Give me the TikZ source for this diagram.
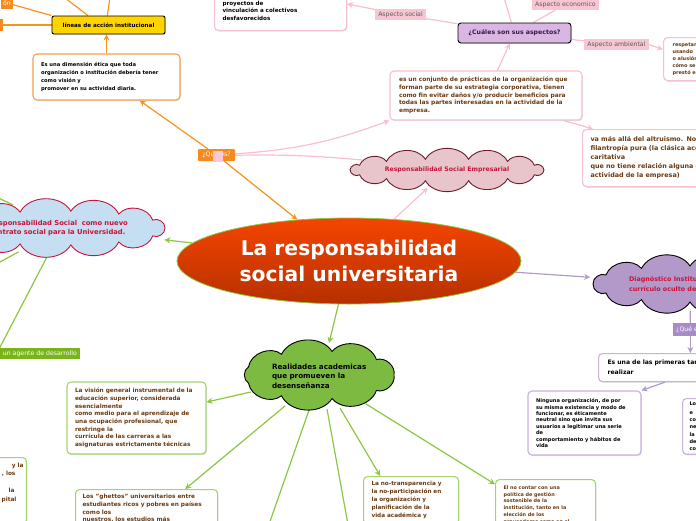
\documentclass[tikz,border=0pt]{standalone}
\usepackage{fontspec}
\setmainfont{DejaVu Sans}
\usetikzlibrary{shapes.geometric,arrows.meta,calc,shadows}
\pgfdeclarelayer{bg}
\pgfsetlayers{bg,main}
\newcommand\fz[2]{\fontsize{#1}{#2}\selectfont}
% #1 centre coordinate, #2 a, #3 b, #4 puffs, #5 style
\newcommand\cloudat[5]{%
  \path[#5] ($#1+(#2,0)$) \foreach \i in {1,...,#4}{ to[bend left=60] ($#1+({#2*cos(360*\i/#4)},{#3*sin(360*\i/#4)})$) } -- cycle;}
\definecolor{orL}{HTML}{F7941D}
\definecolor{orF}{HTML}{F58A20}
\definecolor{orB}{HTML}{F5A04A}
\definecolor{yel}{HTML}{FFD400}
\definecolor{pkL}{HTML}{F9BFCD}
\definecolor{pkF}{HTML}{F8C6D2}
\definecolor{pkB}{HTML}{F6C0CD}
\definecolor{pkSq}{HTML}{F8C8D6}
\definecolor{lav}{HTML}{DAB6E3}
\definecolor{dpur}{HTML}{3A1846}
\definecolor{grayT}{HTML}{5A5A5A}
\definecolor{brn}{HTML}{6A3B12}
\definecolor{rseF}{HTML}{E7C5CB}
\definecolor{mar}{HTML}{6E1B2E}
\definecolor{crim}{HTML}{C8143C}
\definecolor{diagF}{HTML}{B398CA}
\definecolor{puL}{HTML}{B49ACB}
\definecolor{puF}{HTML}{A88CC6}
\definecolor{puB}{HTML}{C8B2DA}
\definecolor{grL}{HTML}{8DC63F}
\definecolor{grF}{HTML}{7DBA42}
\definecolor{grB}{HTML}{A5D36E}
\definecolor{agF}{HTML}{78B41A}
\definecolor{ltBlue}{HTML}{C6DEF1}
\definecolor{ellTop}{HTML}{F54500}
\definecolor{ellBot}{HTML}{B53000}
\definecolor{ellB}{HTML}{8DC63F}
\begin{document}
\begin{tikzpicture}[x=1pt,y=-1pt,
  box/.style={draw, rounded corners=4pt, fill=white, line width=1.1pt, align=left,
     drop shadow={opacity=0.22,shadow xshift=0.8pt,shadow yshift=-1.2pt}},
  lab/.style={rectangle, inner xsep=3pt, inner ysep=0pt, minimum height=11pt, font=\fz{6.2}{7}},
  plab/.style={lab, fill=pkF, text=grayT},
  cldnode/.style={ellipse, inner sep=0pt},
  ar/.style={-{Stealth[length=6pt,width=6pt]}},
  ol/.style={draw=orL, line width=1.2pt},
  pl/.style={draw=pkL, line width=1.2pt},
  ul/.style={draw=puL, line width=1.2pt},
  gl/.style={draw=grL, line width=1.2pt}]
\useasboundingbox (0,0) rectangle (696,520);

% central
\node[ellipse, minimum width=344pt, minimum height=86pt, inner sep=0pt, draw=ellB, line width=0.8pt,
  top color=ellTop, bottom color=ellBot, text=white, font=\fz{20.3}{26.5}\bfseries, align=center]
  (E) at (349,261) {La responsabilidad\\social universitaria};

% orange branch
\node[draw=black, fill=yel, rounded corners=2pt, line width=0.9pt, minimum width=113pt, minimum height=18pt,
  inner sep=0pt, font=\fz{5.6}{7}\bfseries, drop shadow={opacity=0.22,shadow xshift=0.8pt,shadow yshift=-1.2pt}]
  (L) at (108.5,25) {líneas de acción institucional};
\node[lab, fill=orF, text=white, anchor=east, inner xsep=2pt] (on) at (13,3) {ón};
\node[fill=orF, anchor=east, minimum width=8pt, minimum height=12pt, inner sep=0pt] (offL) at (3,25) {};
\coordinate (oa) at (52,-12);
\coordinate (ob) at (111,-10);
\node[box, draw=orB, text width=131pt, inner xsep=8pt, minimum height=46pt, font=\fz{5.2}{8.2}\bfseries]
  (A) at (106.5,77) {Es una dimensión ética que toda\\organización o institución debería tener\\como visión y\\promover en su actividad diaria.};
\node[lab, fill=orF, text=white, minimum width=37pt, minimum height=12pt, inner sep=0pt, rounded corners=1pt]
  (qe) at (216.5,155) {¿Qué es?};
\node[fill=pkSq, minimum width=10pt, minimum height=11pt, inner sep=0pt] (qsq) at (218,156.5) {};

% pink branch
\node[box, draw=pkB, text=brn, text width=174pt, inner xsep=9pt, minimum height=49pt, font=\fz{5.9}{7.7}\bfseries]
  (C) at (486,95.5) {es un conjunto de prácticas de la organización que\\forman parte de su estrategia corporativa, tienen\\como fin evitar daños y/o producir beneficios para\\todas las partes interesadas en la actividad de la\\empresa.};
\coordinate (RSEc) at (447,170);
\cloudat{(RSEc)}{97}{11}{14}{draw=mar, fill=rseF, line width=0.9pt}
\node[cldnode, minimum width=202pt, minimum height=36pt, text=crim, font=\fz{6.2}{7}\bfseries]
  (RSE) at (RSEc) {Responsabilidad Social Empresarial};
\node[draw=black, fill=lav, rounded corners=3pt, line width=0.9pt, minimum width=113pt, minimum height=20pt,
  inner sep=0pt, text=dpur, font=\fz{6.2}{7}\bfseries, drop shadow={opacity=0.22,shadow xshift=0.8pt,shadow yshift=-1.2pt}]
  (Q) at (514.5,33) {¿Cuáles son sus aspectos?};
\node[plab] (soc) at (400.5,14.5) {Aspecto social};
\node[plab] (eco) at (565.5,4.5) {Aspecto economico};
\node[plab] (amb) at (616.5,44.5) {Aspecto ambiental};
\coordinate (qt) at (503,-6);
\node[box, draw=pkB, anchor=south west, text width=116pt, inner xsep=8pt, inner ysep=10pt, font=\fz{5.6}{7.6}\bfseries]
  (P) at (214,31) {personas sin recursos o tener\\proyectos de\\vinculación a colectivos\\desfavorecidos};
\node[box, draw=pkB, anchor=north west, text width=60pt, inner xsep=9pt, minimum height=43pt, text=brn,
  font=\fz{5}{7}\bfseries] (R) at (663,37) {respetar\\usando\\o alusión\\cómo se\\prestó e};
\node[box, draw=pkB, anchor=north west, text width=140pt, inner xsep=8pt, minimum height=57pt, text=brn,
  font=\fz{6.4}{9}\bfseries] (V) at (582,129) {va más allá del altruismo. No es\\filantropía pura (la clásica acción\\caritativa\\que no tiene relación alguna con la\\actividad de la empresa)};

% purple branch
\coordinate (Dc) at (690,284);
\cloudat{(Dc)}{97}{18}{12}{draw=black, fill=diagF, line width=0.9pt}
\node[cldnode, minimum width=206pt, minimum height=53pt, text=crim,
  text width=122pt, align=left, font=\fz{6.4}{10}\bfseries] (D) at (Dc) {Diagnóstico Institucional del\\currículo oculto de};
\node[lab, fill=puF, text=white, anchor=west, minimum height=13pt] (Q2) at (673,329.5) {¿Qué es?};
\node[box, draw=puB, anchor=north west, text width=130pt, inner xsep=9pt, minimum height=28pt,
  font=\fz{6.1}{10}\bfseries] (PR) at (598,353) {Es una de las primeras tareas a\\realizar};
\node[box, draw=puB, text width=97pt, inner xsep=8pt, minimum height=64pt, font=\fz{5.1}{6.4}\bfseries]
  (N) at (584.5,423) {Ninguna organización, de por\\su misma existencia y modo de\\funcionar, es éticamente\\neutral sino que invita sus\\usuarios a legitimar una serie\\de\\comportamiento y hábitos de\\vida};
\node[box, draw=puB, anchor=north west, text width=40pt, inner xsep=7pt, minimum height=52pt,
  font=\fz{5}{7.3}\bfseries] (LO) at (682,398) {Lo\\\kern1.5pt e\\co\\ne\\la\\de\\co};

% green branch
\coordinate (RAc) at (319,375);
\cloudat{(RAc)}{75}{24}{9}{draw=black, fill=grF, line width=0.9pt}
\node[cldnode, minimum width=160pt, minimum height=66pt,
  text width=98pt, align=left, font=\fz{7.2}{9.5}\bfseries] (RA) at ($(RAc)+(2,1)$) {Realidades academicas\\que promueven la\\desenseñanza};
\node[box, draw=grB, text=brn, text width=123pt, inner xsep=8pt, minimum height=72pt, font=\fz{5.8}{7.7}\bfseries]
  (VI) at (136.5,418) {La visión general instrumental de la\\educación superior, considerada\\esencialmente\\como medio para el aprendizaje de\\una ocupación profesional, que\\restringe la\\currícula de las carreras a las\\asignaturas estrictamente técnicas};
\node[box, draw=grB, text=brn, anchor=north west, text width=128pt, inner xsep=7pt, inner ysep=5pt, font=\fz{5.8}{7.6}\bfseries]
  (GH) at (75,489) {Los "ghettos" universitarios entre\\estudiantes ricos y pobres en países\\como los\\nuestros, los estudios más};
\node[box, draw=grB, text=brn, anchor=north west, text width=79pt, inner xsep=8pt, inner ysep=5pt, font=\fz{5.7}{8}\bfseries]
  (NT) at (363,476) {La no-transparencia y\\la no-participación en\\la organización y\\planificación de la\\vida académica y};
\node[box, draw=grB, text=brn, anchor=north west, text width=84pt, inner xsep=8pt, inner ysep=6pt, font=\fz{4.9}{6.8}\bfseries]
  (EN) at (495,479) {El no contar con una\\política de gestión\\sostenible de la\\institución, tanto en la\\elección de los\\proveedores como en el};
\node[box, draw=grB, text=brn, anchor=north east, text width=50pt, inner xsep=3pt, inner ysep=5.5pt, align=right,
  font=\fz{5.8}{8.5}\bfseries] (LP) at (27,457) {y la\\, los\kern8pt\\\mbox{}\\la\kern9pt\\pital\kern7pt\\\mbox{}\\\mbox{}};
\coordinate (rb1) at (267,530);
\coordinate (rb2) at (349,530);
\coordinate (RSc) at (58,228);
\cloudat{(RSc)}{107}{17}{13}{draw=crim, fill=ltBlue, line width=0.9pt}
\node[cldnode, minimum width=230pt, minimum height=51pt, text=crim,
  text width=146pt, align=left, font=\fz{6.8}{8.3}\bfseries] (RS) at ($(RSc)+(4,0)$) {Responsabilidad Social\ \ como nuevo\\contrato social para la Universidad.};
\node[lab, fill=agF, text=white, anchor=east] (AG) at (80,353.5) {un agente de desarrollo};
\coordinate (rs1) at (-10,194);
\coordinate (rs2) at (-20,273);

\begin{pgfonlayer}{bg}
  % orange
  \draw[ol] (L.north west) -- (on);
  \draw[ol] ($(L.north west)!0.32!(L.north east)$) -- (oa);
  \draw[ol] ($(L.north west)!0.49!(L.north east)$) -- (ob);
  \draw[ol] (L.west) -- (offL);
  \draw[ol,ar] (A.north) -- (A.north |- L.south);
  \draw[ol,ar] (qe) -- (A);
  \draw[ol,ar] (qe) -- (E);
  % pink
  \draw[pl,ar] (qe) to[bend right=8] (C.south west);
  \draw[pl] (qe) to[bend left=3] (RSE);
  \draw[pl,ar] (E) -- (RSE);
  \draw[pl,ar] (C) -- (Q);
  \draw[pl,ar] ($(C.south west)!0.903!(C.south east)$) -- ($(V.north west)!0.07!(V.north east)$);
  \draw[pl] (Q) -- (soc);
  \draw[pl,ar] (soc) -- ($(P.north east)!0.44!(P.south east)$);
  \draw[pl] (Q) -- (eco);
  \draw[pl] (Q) -- (qt);
  \draw[pl] (Q) -- (amb);
  \draw[pl,ar] (amb.east) -- ($(R.north west)!0.28!(R.south west)$);
  % purple
  \draw[ul,ar] (E) -- (D);
  \draw[ul] (D) -- (Q2);
  \draw[ul,ar] (Q2.south) -- (Q2.south |- PR.north);
  \draw[ul,ar] ($(PR.south west)!0.45!(PR.south east)$) -- (N.north east);
  % green
  \draw[gl,ar] (E) -- (RS);
  \draw[gl,ar] (E) -- (RA);
  \draw[gl,ar] (RA) -- (VI);
  \draw[gl,ar] (RA) -- ($(GH.north west)!0.77!(GH.north east)$);
  \draw[gl] (RA) -- (rb1);
  \draw[gl] (RA) -- (rb2);
  \draw[gl,ar] (RA) -- ($(NT.north west)!0.18!(NT.north east)$);
  \draw[gl,ar] (RA) -- ($(EN.north west)!0.1!(EN.south west)$);
  \draw[gl] (RS) -- (rs1);
  \draw[gl] (RS) -- (rs2);
  \draw[gl] (RS) -- (AG.north west);
\end{pgfonlayer}
\end{tikzpicture}
\end{document}
